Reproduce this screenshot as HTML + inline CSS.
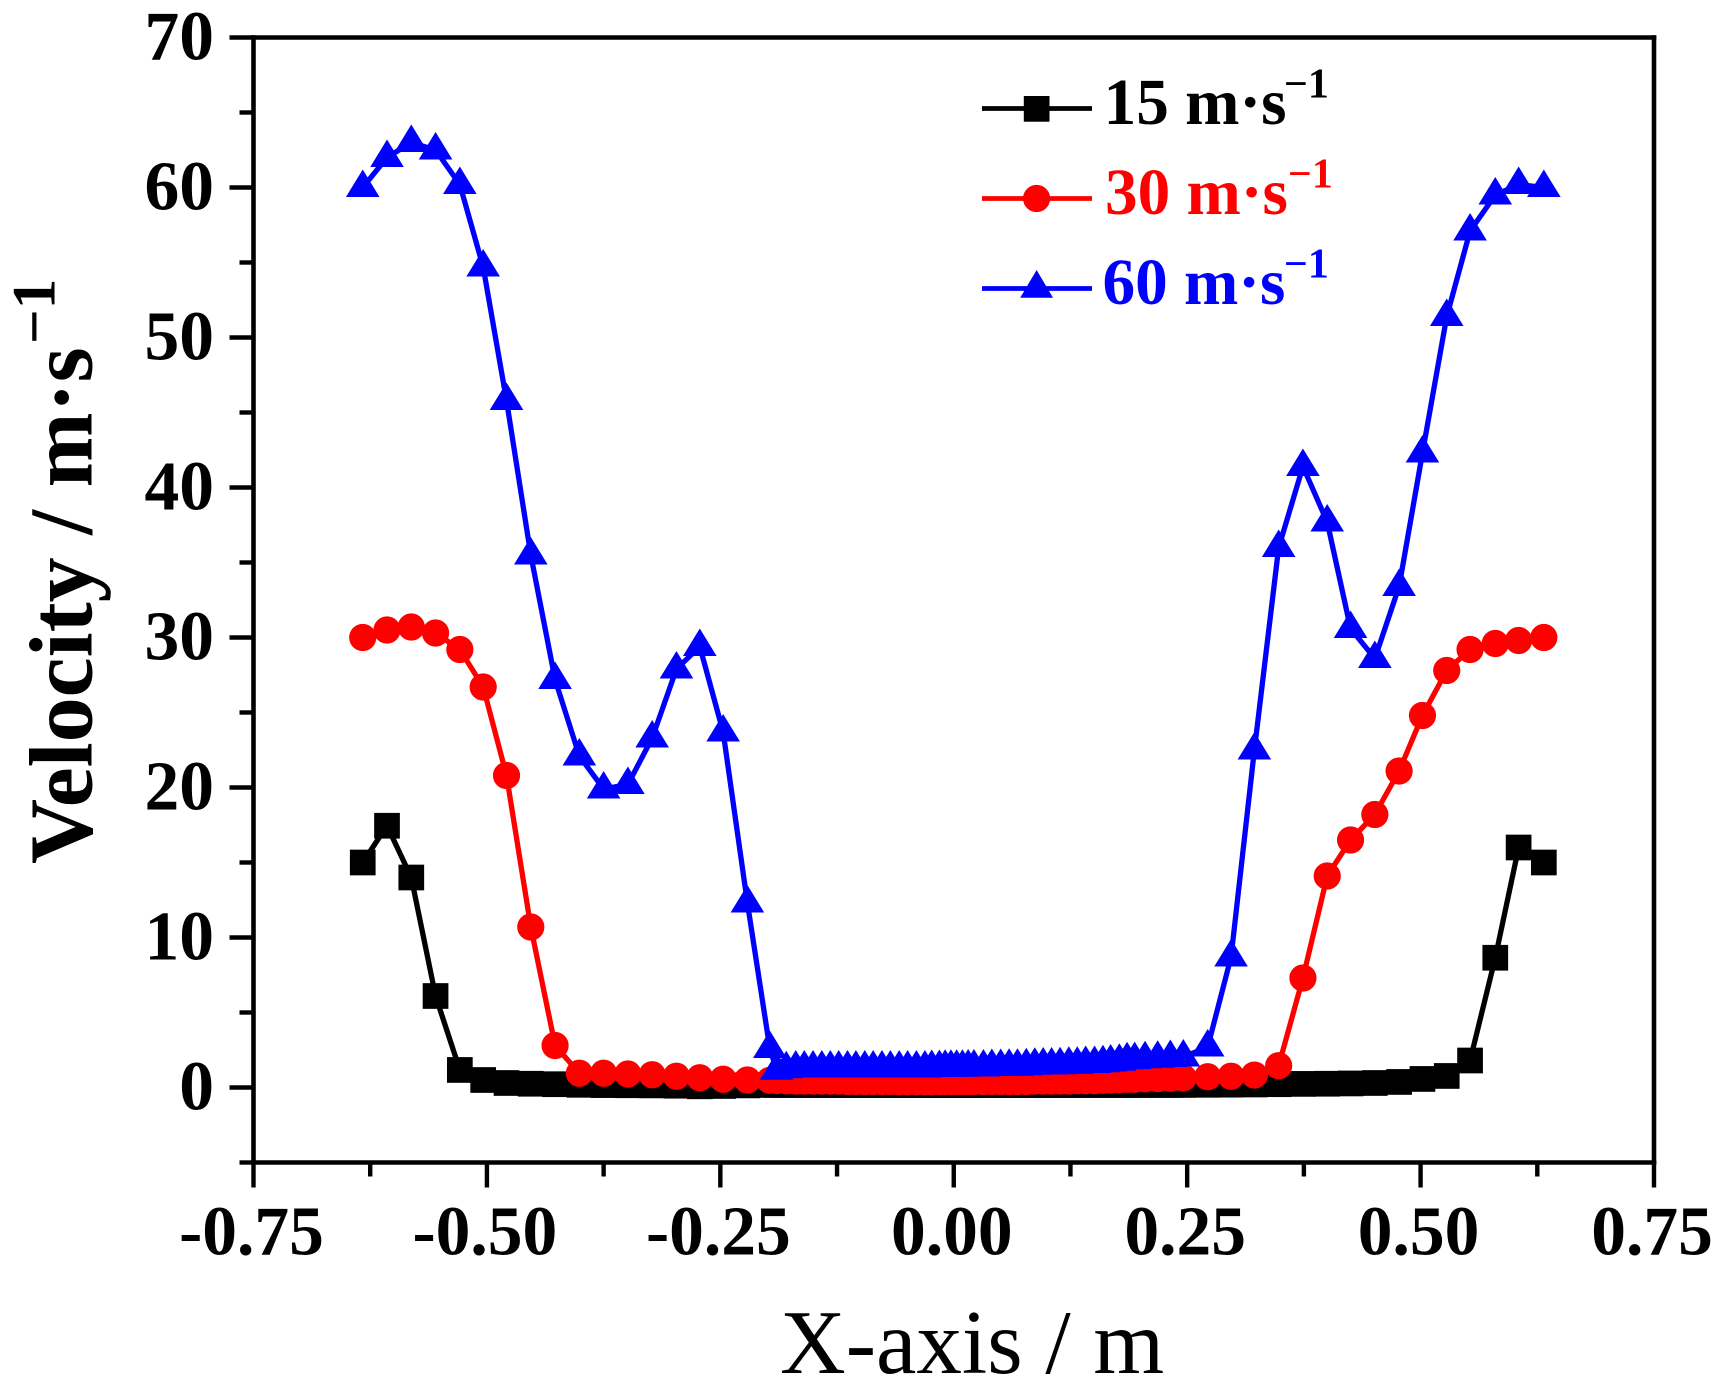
<!DOCTYPE html>
<html>
<head>
<meta charset="utf-8">
<title>Velocity vs X-axis</title>
<style>
html,body{margin:0;padding:0;background:#fff;width:1724px;height:1397px;overflow:hidden}
svg{display:block}
text{font-family:"Liberation Serif",serif;font-weight:bold;fill:#000}
</style>
</head>
<body>
<svg id="chart" xmlns="http://www.w3.org/2000/svg" width="1724" height="1397" viewBox="0 0 1724 1397">
  <rect x="0" y="0" width="1724" height="1397" fill="#fff"/>
  <g id="marks"></g>
  <g id="axes"></g>
  <text x="780" y="1373" font-size="91" style="font-weight:normal">X-axis / m</text>
  <text transform="translate(91.5,864) rotate(-90)" font-size="90">Velocity / m·s</text>
  <text transform="translate(54.5,344) rotate(-90)" font-size="61">−1</text>
  <g>
    <g>
      <line x1="982" y1="108.5" x2="1092" y2="108.5" stroke="#000" stroke-width="4.7"/>
      <rect x="1023.8" y="96" width="25.7" height="25.7" fill="#000"/>
      <text x="1103.6" y="124" font-size="65.2">15 m·s</text>
      <text x="1284" y="97.7" font-size="42">−1</text>
    </g>
    <g>
      <line x1="982" y1="198.5" x2="1092" y2="198.5" stroke="#f00" stroke-width="4.7"/>
      <circle cx="1036.6" cy="198.5" r="13.6" fill="#f00"/>
      <text x="1105" y="214" font-size="65.2" style="fill:#f00">30 m·s</text>
      <text x="1288" y="187.7" font-size="42" style="fill:#f00">−1</text>
    </g>
    <g>
      <line x1="982" y1="288.5" x2="1092" y2="288.5" stroke="#00f" stroke-width="4.7"/>
      <polygon points="1036.6,270 1053,297.8 1020.2,297.8" fill="#00f"/>
      <text x="1102.5" y="304" font-size="65.2" style="fill:#00f">60 m·s</text>
      <text x="1284" y="277.7" font-size="42" style="fill:#00f">−1</text>
    </g>
  </g>
</svg>
<script>
const xValues = [
  -0.633,-0.607,-0.581,-0.555,-0.529,-0.504,-0.479,-0.453,-0.427,-0.401,-0.375,-0.349,-0.323,-0.297,-0.272,-0.247,-0.221,-0.197,
  -0.1897,-0.1794,-0.1692,-0.1601,-0.1507,-0.1413,-0.1322,-0.1232,-0.1138,-0.1048,-0.0953,-0.0863,-0.0769,-0.0679,-0.0584,-0.0494,-0.0400,-0.0309,-0.0236,-0.0154,-0.0092,-0.0030,0.0031,0.0093,0.0154,0.0216,0.0318,0.0408,0.0503,0.0593,0.0683,0.0777,0.0868,0.0958,0.1048,0.1139,0.1233,0.1323,0.1413,0.1508,0.1598,0.1680,0.1774,0.1856,0.1938,0.2049,0.2184,0.2320,0.2459,
  0.272,0.297,0.322,0.348,0.374,0.400,0.425,0.451,0.477,0.502,0.528,0.553,0.580,0.605,0.632
];
const speed15 = [
  15,17.45,14,6.1,1.17,0.5,0.3,0.25,0.22,0.18,0.16,0.15,0.14,0.12,0.08,0.1,0.14,0.17,
  0.17,0.17,0.17,0.17,0.17,0.17,0.17,0.17,0.17,0.17,0.17,0.17,0.17,0.17,0.17,0.17,0.17,0.17,0.17,0.17,0.17,0.17,0.17,0.17,0.17,0.17,0.17,0.17,0.17,0.17,0.17,0.17,0.17,0.17,0.17,0.17,0.17,0.17,0.17,0.17,0.17,0.17,0.17,0.17,0.17,0.17,0.17,0.17,0.17,
  0.18,0.19,0.2,0.22,0.24,0.25,0.27,0.3,0.37,0.57,0.77,1.8,8.65,16,15
];
const speed30 = [
  30,30.5,30.7,30.3,29.2,26.7,20.8,10.7,2.8,0.95,0.95,0.9,0.85,0.75,0.65,0.55,0.5,0.48,
  0.46,0.45,0.42,0.42,0.42,0.42,0.42,0.42,0.4,0.4,0.4,0.4,0.4,0.4,0.38,0.38,0.38,0.38,0.38,0.4,0.4,0.4,0.4,0.4,0.4,0.4,0.4,0.4,0.4,0.4,0.4,0.4,0.42,0.42,0.42,0.42,0.42,0.45,0.45,0.45,0.48,0.5,0.52,0.55,0.55,0.58,0.6,0.62,0.65,
  0.72,0.75,0.83,1.45,7.3,14.1,16.5,18.2,21.1,24.8,27.8,29.2,29.6,29.8,30
];
const speed60 = [
  60,62,63,62.5,60.2,54.7,45.8,35.5,27.2,22.1,19.9,20.2,23.3,27.9,29.4,23.7,12.3,2.6,
  1.15,1.25,1.3,1.3,1.3,1.3,1.3,1.3,1.3,1.3,1.3,1.3,1.3,1.3,1.3,1.3,1.3,1.3,1.33,1.33,1.35,1.35,1.35,1.35,1.37,1.37,1.37,1.4,1.4,1.42,1.42,1.45,1.48,1.5,1.5,1.52,1.55,1.55,1.6,1.6,1.65,1.7,1.75,1.85,1.86,1.92,1.95,2.0,2.03,
  2.7,8.7,22.5,36,41.4,37.7,30.6,28.6,33.4,42.3,51.4,57.1,59.5,60.2,60
];
const xMajorTicks = [-0.75,-0.5,-0.25,0,0.25,0.5,0.75];
const xMajorLabels = ["-0.75","-0.50","-0.25","0.00","0.25","0.50","0.75"];
const xMinorTicks = [-0.625,-0.375,-0.125,0.125,0.375,0.625];
const yMajorTicks = [0,10,20,30,40,50,60,70];
const yMajorLabels = ["0","10","20","30","40","50","60","70"];
const yMinorTicks = [-5,5,15,25,35,45,55,65];

const NS = "http://www.w3.org/2000/svg";
const xDomain = [-0.75, 0.75];
const xRange = [253.5, 1654];
const yDomain = [-5, 70];
const yRange = [1162.5, 37.5];
function xScale(v){ return xRange[0] + (v - xDomain[0]) * (xRange[1] - xRange[0]) / (xDomain[1] - xDomain[0]); }
function yScale(v){ return yRange[0] + (v - yDomain[0]) * (yRange[1] - yRange[0]) / (yDomain[1] - yDomain[0]); }
function make(tag, attrs){
  const el = document.createElementNS(NS, tag);
  for (const k in attrs) el.setAttribute(k, attrs[k]);
  return el;
}
const marks = document.getElementById("marks");
const axes = document.getElementById("axes");

function drawSeries(values, color, kind, label){
  const g = make("g", {});
  
  
  const pts = values.map((v, i) => xScale(xValues[i]).toFixed(2) + "," + yScale(v).toFixed(2)).join(" ");
  const line = make("polyline", {points: pts, fill: "none", stroke: color, "stroke-width": 5.3, "stroke-linejoin": "round"});
  
  
  g.appendChild(line);
  values.forEach((v, i) => {
    const cx = xScale(xValues[i]), cy = yScale(v);
    let m;
    if (kind === "square") {
      m = make("rect", {x: cx - 12.85, y: cy - 12.85, width: 25.7, height: 25.7, fill: color});
    } else if (kind === "circle") {
      m = make("circle", {cx: cx, cy: cy, r: 13.6, fill: color});
    } else {
      m = make("polygon", {points: cx + "," + (cy - 18) + " " + (cx + 16.8) + "," + (cy + 9.5) + " " + (cx - 16.8) + "," + (cy + 9.5), fill: color});
    }
    
    
    g.appendChild(m);
  });
  marks.appendChild(g);
}
drawSeries(speed15, "#000", "square", "15-ms");
drawSeries(speed30, "#f00", "circle", "30-ms");
drawSeries(speed60, "#00f", "triangle", "60-ms");

function axisLine(x1, y1, x2, y2, name){
  const l = make("line", {x1: x1, y1: y1, x2: x2, y2: y2, stroke: "#000", "stroke-width": 4.6, "stroke-linecap": "square"});
  
  
  axes.appendChild(l);
}
axisLine(xRange[0], yRange[1], xRange[1], yRange[1], "top-frame-line");
axisLine(xRange[1], yRange[1], xRange[1], yRange[0], "right-frame-line");
axisLine(xRange[0], yRange[0], xRange[1], yRange[0], "x-axis-line");
axisLine(xRange[0], yRange[1], xRange[0], yRange[0], "y-axis-line");

function tick(x1, y1, x2, y2, name){
  const l = make("line", {x1: x1, y1: y1, x2: x2, y2: y2, stroke: "#000", "stroke-width": 4.4});
  
  
  axes.appendChild(l);
}
xMajorTicks.forEach((v, i) => {
  const x = xScale(v);
  tick(x, yRange[0], x, yRange[0] + 25, "x-major-tick");
  const t = make("text", {x: x - 2, y: 1254.5, "font-size": 69.5, "text-anchor": "middle"});
  
  
  t.textContent = xMajorLabels[i];
  axes.appendChild(t);
});
xMinorTicks.forEach(v => {
  const x = xScale(v);
  tick(x, yRange[0], x, yRange[0] + 14, "x-minor-tick");
});
yMajorTicks.forEach((v, i) => {
  const y = yScale(v);
  tick(xRange[0], y, xRange[0] - 24, y, "y-major-tick");
  const t = make("text", {x: 214, y: y + 22, "font-size": 69.5, "text-anchor": "end"});
  
  
  t.textContent = yMajorLabels[i];
  axes.appendChild(t);
});
yMinorTicks.forEach(v => {
  const y = yScale(v);
  tick(xRange[0], y, xRange[0] - 14, y, "y-minor-tick");
});
</script>
</body>
</html>
